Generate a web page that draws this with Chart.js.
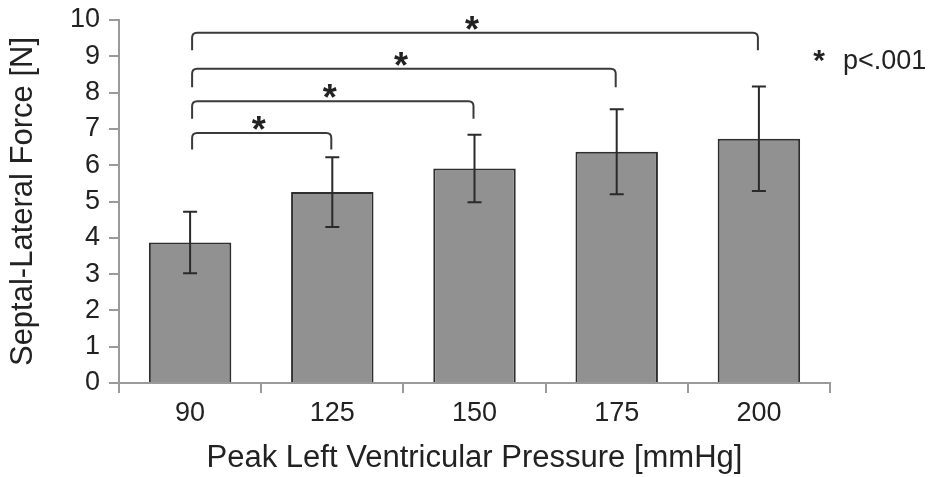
<!DOCTYPE html>
<html>
<head>
<meta charset="utf-8">
<script src="https://cdn.jsdelivr.net/npm/chart.js@4/dist/chart.umd.min.js"></script>
<style>
  html, body { margin: 0; padding: 0; background: #fff; }
  #wrap { width: 939px; height: 477px; }
</style>
</head>
<body>
<div id="wrap"><canvas id="chart"></canvas></div>
<script>
const pressures = ["90", "125", "150", "175", "200"];
const forceMeans = [3.87, 5.26, 5.91, 6.37, 6.73];
const forceErrors = [0.85, 0.96, 0.93, 1.17, 1.44];
const yTicks = [0, 1, 2, 3, 4, 5, 6, 7, 8, 9, 10];

// significance brackets: from category index, to category index, bracket level, leg bottom
const bracketFrom = [0, 0, 0, 0];
const bracketTo = [1, 2, 3, 4];
const bracketLevel = [6.89, 7.76, 8.66, 9.65];
const bracketLegEnd = [6.43, 7.28, 8.15, 9.17];

const textColor = "#222";
const axisColor = "#9a9a9a";
const font = "'Liberation Sans', Arial, sans-serif";

const errorBars = {
  id: "errorBars",
  afterDatasetsDraw(chart) {
    const { ctx, scales: { y } } = chart;
    const meta = chart.getDatasetMeta(0);
    ctx.save();
    ctx.strokeStyle = "#2a2a2a";
    ctx.lineWidth = 2;
    meta.data.forEach((bar, i) => {
      const top = y.getPixelForValue(forceMeans[i] + forceErrors[i]);
      const bottom = y.getPixelForValue(forceMeans[i] - forceErrors[i]);
      ctx.beginPath();
      ctx.moveTo(bar.x, top);
      ctx.lineTo(bar.x, bottom);
      ctx.moveTo(bar.x - 7, top);
      ctx.lineTo(bar.x + 7, top);
      ctx.moveTo(bar.x - 7, bottom);
      ctx.lineTo(bar.x + 7, bottom);
      ctx.stroke();
    });
    ctx.restore();
  }
};

const brackets = {
  id: "brackets",
  afterDraw(chart) {
    const { ctx, scales: { x, y } } = chart;
    ctx.save();
    ctx.strokeStyle = "#3a3a3a";
    ctx.lineWidth = 2;
    ctx.fillStyle = textColor;
    ctx.font = "bold 36px " + font;
    ctx.textAlign = "center";
    ctx.textBaseline = "alphabetic";
    const r = 5;
    for (let i = 0; i < bracketLevel.length; i++) {
      const x1 = x.getPixelForValue(bracketFrom[i]) + 2;
      const x2 = x.getPixelForValue(bracketTo[i]) - 1;
      const yl = y.getPixelForValue(bracketLevel[i]);
      const ye = y.getPixelForValue(bracketLegEnd[i]);
      ctx.beginPath();
      ctx.moveTo(x1, ye);
      ctx.lineTo(x1, yl + r);
      ctx.quadraticCurveTo(x1, yl, x1 + r, yl);
      ctx.lineTo(x2 - r, yl);
      ctx.quadraticCurveTo(x2, yl, x2, yl + r);
      ctx.lineTo(x2, ye);
      ctx.stroke();
      ctx.fillText("*", (x1 + x2) / 2 - 3, yl + 9);
    }
    // legend note
    ctx.font = "bold 30px " + font;
    ctx.fillText("*", 819, 70);
    ctx.font = "27px " + font;
    ctx.textAlign = "left";
    ctx.textBaseline = "middle";
    ctx.fillText("p<.001", 843, 62);
    ctx.restore();
  }
};

new Chart(document.getElementById("chart"), {
  type: "bar",
  data: {
    labels: pressures,
    datasets: [{
      data: forceMeans,
      backgroundColor: "#919191",
      borderColor: "#2e2e2e",
      borderWidth: 2,
      barPercentage: 0.58,
      categoryPercentage: 1,
    }],
  },
  options: {
    responsive: true,
    maintainAspectRatio: false,
    animation: false,
    layout: { padding: { top: 20, right: 109, bottom: 0, left: 0 } },
    plugins: {
      legend: { display: false },
      tooltip: { enabled: false },
    },
    scales: {
      x: {
        grid: {
          offset: true,
          drawOnChartArea: false,
          tickLength: 10,
          color: axisColor,
          lineWidth: 2,
        },
        border: { color: axisColor, width: 2 },
        ticks: { color: textColor, font: { family: font, size: 27 }, padding: 4 },
        title: {
          display: true,
          text: "Peak Left Ventricular Pressure [mmHg]",
          color: textColor,
          font: { family: font, size: 31 },
          padding: { top: 7, bottom: 0 },
        },
        afterFit(scale) {
          scale.height = 94;
          scale.paddingLeft = 0;
          scale.paddingRight = 0;
        },
      },
      y: {
        min: 0,
        max: 10,
        afterBuildTicks(scale) { scale.ticks = yTicks.map(v => ({ value: v })); },
        grid: {
          drawOnChartArea: false,
          tickLength: 10,
          color: axisColor,
          lineWidth: 2,
        },
        border: { color: axisColor, width: 2 },
        ticks: { color: textColor, font: { family: font, size: 27 }, padding: 9 },
        title: {
          display: true,
          text: "Septal-Lateral Force [N]",
          color: textColor,
          font: { family: font, size: 31 },
          padding: { top: 5, bottom: 0 },
        },
        afterFit(scale) {
          scale.width = 119;
          scale.paddingTop = 0;
          scale.paddingBottom = 0;
        },
      },
    },
  },
  plugins: [errorBars, brackets],
});
</script>
</body>
</html>
